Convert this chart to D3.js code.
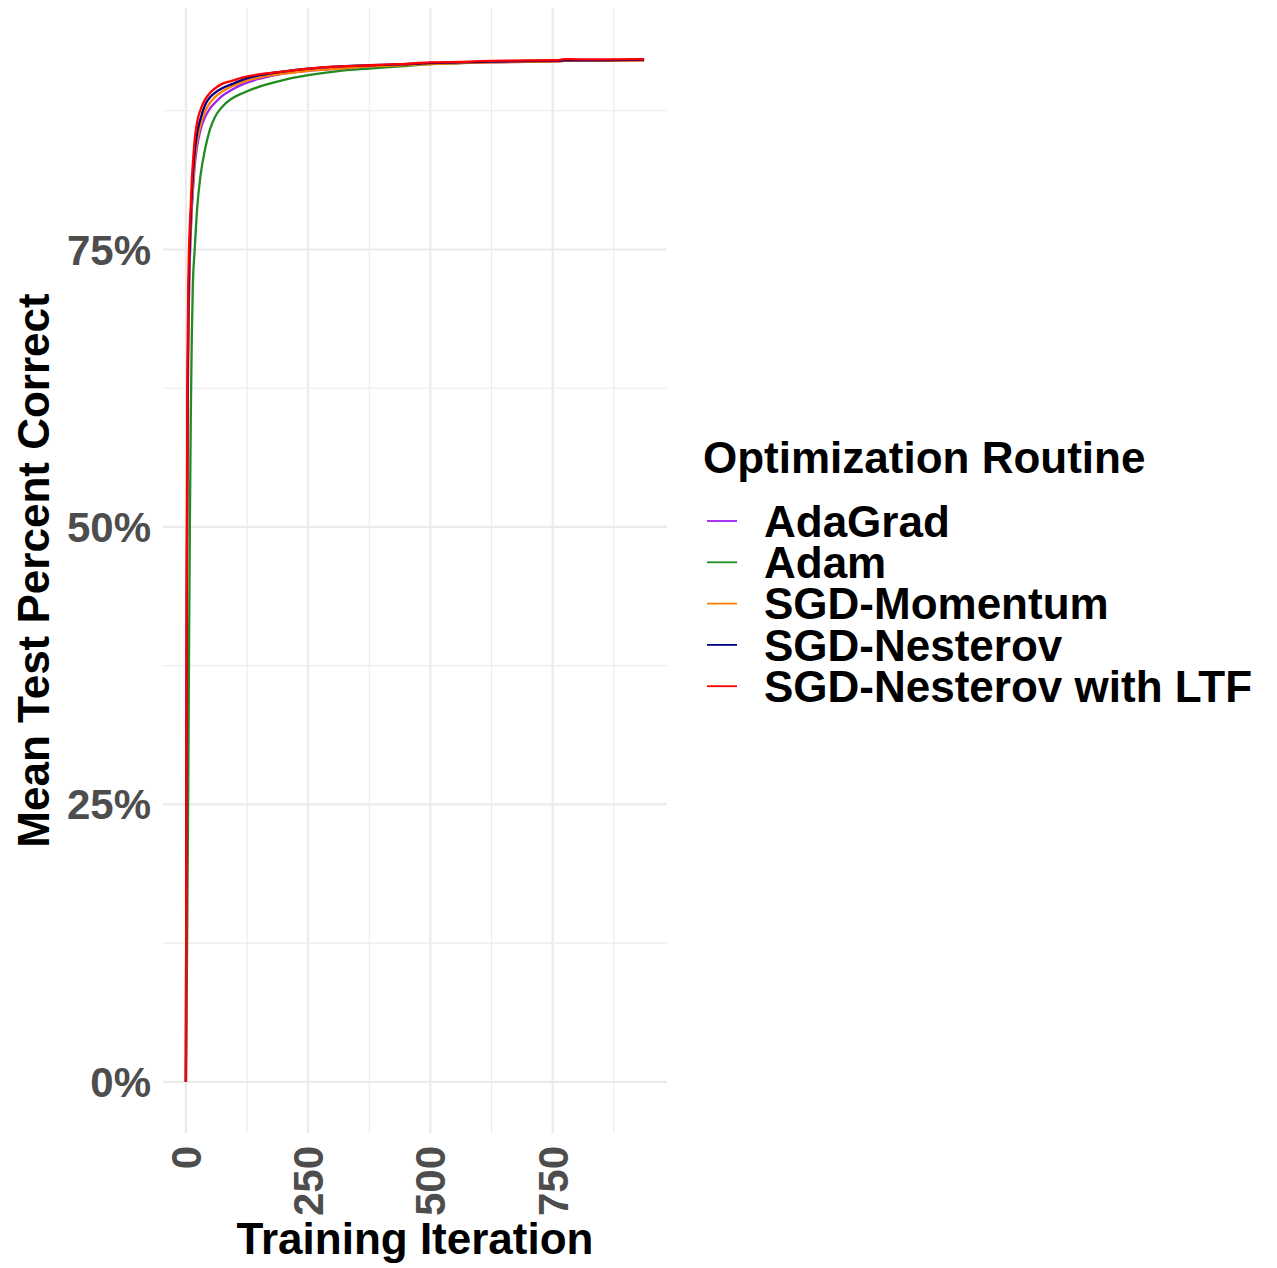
<!DOCTYPE html>
<html>
<head>
<meta charset="utf-8">
<script src="https://cdn.jsdelivr.net/npm/d3@7"></script>
<style>
  html, body { margin: 0; padding: 0; background: #ffffff; }
  svg { display: block; }
  text { font-family: "Liberation Sans", Arial, Helvetica, sans-serif; font-weight: bold; }
</style>
</head>
<body>
<svg id="chart" width="1277" height="1268"></svg>
<script>
// Training iterations at which the mean test accuracy was recorded
const iterations = [0, 1, 2, 3, 4, 5, 6, 7, 8, 10, 12, 14, 18, 23, 30, 39, 49, 59, 73, 94,
  117, 152, 193, 250, 316, 375, 438, 500, 560, 623, 700, 760, 775, 850, 937];

// Mean test accuracy (fraction correct) for each optimizer
const adaGrad = [0, 0.23, 0.43, 0.55, 0.62, 0.67, 0.70, 0.72, 0.74, 0.765, 0.785, 0.80, 0.825, 0.843, 0.858, 0.869, 0.877, 0.882, 0.888, 0.894,
  0.899, 0.904, 0.908, 0.911, 0.913, 0.915, 0.916, 0.9175, 0.918, 0.9185, 0.919, 0.9195, 0.920, 0.920, 0.9205];
const adam = [0, 0.05, 0.10, 0.16, 0.22, 0.28, 0.36, 0.43, 0.497, 0.60, 0.67, 0.715, 0.75, 0.787, 0.817, 0.840, 0.858, 0.869, 0.878, 0.886,
  0.891, 0.897, 0.902, 0.907, 0.911, 0.913, 0.915, 0.917, 0.918, 0.919, 0.9195, 0.920, 0.920, 0.9205, 0.921];
const sgdMomentum = [0, 0.24, 0.44, 0.56, 0.63, 0.68, 0.71, 0.73, 0.745, 0.77, 0.79, 0.805, 0.83, 0.848, 0.862, 0.874, 0.882, 0.887, 0.892, 0.897,
  0.901, 0.905, 0.908, 0.911, 0.913, 0.915, 0.916, 0.917, 0.918, 0.9185, 0.919, 0.9195, 0.920, 0.920, 0.9205];
const sgdNesterov = [0, 0.25, 0.46, 0.58, 0.65, 0.69, 0.72, 0.74, 0.755, 0.78, 0.80, 0.815, 0.838, 0.855, 0.868, 0.88, 0.887, 0.891, 0.895, 0.899,
  0.903, 0.907, 0.910, 0.913, 0.915, 0.916, 0.9168, 0.918, 0.9185, 0.9192, 0.9198, 0.920, 0.9205, 0.9205, 0.921];
const sgdNesterovLTF = [0, 0.28, 0.50, 0.62, 0.68, 0.72, 0.745, 0.76, 0.772, 0.79, 0.812, 0.826, 0.849, 0.865, 0.876, 0.885, 0.891, 0.895, 0.899, 0.902,
  0.905, 0.908, 0.910, 0.913, 0.915, 0.916, 0.917, 0.9185, 0.919, 0.920, 0.9203, 0.9205, 0.9215, 0.9212, 0.9215];

const seriesNames = ["AdaGrad", "Adam", "SGD-Momentum", "SGD-Nesterov", "SGD-Nesterov with LTF"];
const seriesColors = ["#A020F0", "#228B22", "#FF7F00", "#000080", "#FF0000"];
const seriesValues = [adaGrad, adam, sgdMomentum, sgdNesterov, sgdNesterovLTF];

const xMajorTicks = [0, 250, 500, 750];
const xMinorTicks = [125, 375, 625, 875];
const yMajorTicks = [0, 0.25, 0.5, 0.75];
const yMinorTicks = [0.125, 0.375, 0.625, 0.875];

const legendTitle = "Optimization Routine";
const xTitle = "Training Iteration";
const yTitle = "Mean Test Percent Correct";

// ---- layout ----
const panel = { left: 163, right: 667, top: 8, bottom: 1133 };
const svg = d3.select("#chart");

const xMax = d3.max(iterations);
const yMax = d3.max(seriesValues.flat());
const x = d3.scaleLinear()
  .domain([-0.05 * xMax, 1.05 * xMax])
  .range([panel.left, panel.right]);
const y = d3.scaleLinear()
  .domain([-0.05 * yMax, 1.05 * yMax])
  .range([panel.bottom, panel.top]);

const gridColor = "#EBEBEB";
const grid = svg.append("g");

// minor grid
grid.selectAll("line.xminor").data(xMinorTicks).join("line")
  .attr("x1", d => x(d)).attr("x2", d => x(d))
  .attr("y1", panel.top).attr("y2", panel.bottom)
  .attr("stroke", gridColor).attr("stroke-width", 1.1);
grid.selectAll("line.yminor").data(yMinorTicks).join("line")
  .attr("x1", panel.left).attr("x2", panel.right)
  .attr("y1", d => y(d)).attr("y2", d => y(d))
  .attr("stroke", gridColor).attr("stroke-width", 1.1);
// major grid
grid.selectAll("line.xmajor").data(xMajorTicks).join("line")
  .attr("x1", d => x(d)).attr("x2", d => x(d))
  .attr("y1", panel.top).attr("y2", panel.bottom)
  .attr("stroke", gridColor).attr("stroke-width", 2.2);
grid.selectAll("line.ymajor").data(yMajorTicks).join("line")
  .attr("x1", panel.left).attr("x2", panel.right)
  .attr("y1", d => y(d)).attr("y2", d => y(d))
  .attr("stroke", gridColor).attr("stroke-width", 2.2);

// ---- lines ----
const line = d3.line()
  .x((d, i) => x(iterations[i]))
  .y(d => y(d))
  .curve(d3.curveMonotoneX);

svg.append("g").selectAll("path").data(seriesValues).join("path")
  .attr("d", d => line(d))
  .attr("fill", "none")
  .attr("stroke", (d, i) => seriesColors[i])
  .attr("stroke-width", 2.3)
  .attr("stroke-linejoin", "round");

// ---- axes text ----
const tickSize = 42;
const capH = 0.716 * tickSize;
const pct = d3.format(".0%");

svg.append("g").selectAll("text").data(yMajorTicks).join("text")
  .attr("x", 151)
  .attr("y", d => y(d) + capH / 2)
  .attr("text-anchor", "end")
  .attr("font-size", tickSize)
  .attr("fill", "#4D4D4D")
  .text(d => pct(d));

svg.append("g").selectAll("text").data(xMajorTicks).join("text")
  .attr("transform", d => `translate(${x(d) + capH / 2},1146) rotate(-90)`)
  .attr("text-anchor", "end")
  .attr("font-size", tickSize)
  .attr("fill", "#4D4D4D")
  .text(d => d);

svg.append("text")
  .attr("x", (panel.left + panel.right) / 2)
  .attr("y", 1254)
  .attr("text-anchor", "middle")
  .attr("font-size", 44)
  .attr("fill", "#000")
  .text(xTitle);

svg.append("text")
  .attr("transform", `translate(49,${(panel.top + panel.bottom) / 2}) rotate(-90)`)
  .attr("text-anchor", "middle")
  .attr("font-size", 44)
  .attr("fill", "#000")
  .text(yTitle);

// ---- legend ----
const legend = svg.append("g");
legend.append("text")
  .attr("x", 703).attr("y", 473)
  .attr("font-size", 44)
  .attr("fill", "#000")
  .text(legendTitle);

const legendY0 = 521, legendStep = 41.3;
const items = legend.selectAll("g.item").data(seriesNames).join("g")
  .attr("transform", (d, i) => `translate(0,${legendY0 + i * legendStep})`);
items.append("line")
  .attr("x1", 707).attr("x2", 737)
  .attr("y1", 0).attr("y2", 0)
  .attr("stroke", (d, i) => seriesColors[i])
  .attr("stroke-width", 1.8);
items.append("text")
  .attr("x", 764)
  .attr("y", 0.716 * 44 / 2)
  .attr("font-size", 44)
  .attr("fill", "#000")
  .text(d => d);
</script>
</body>
</html>
